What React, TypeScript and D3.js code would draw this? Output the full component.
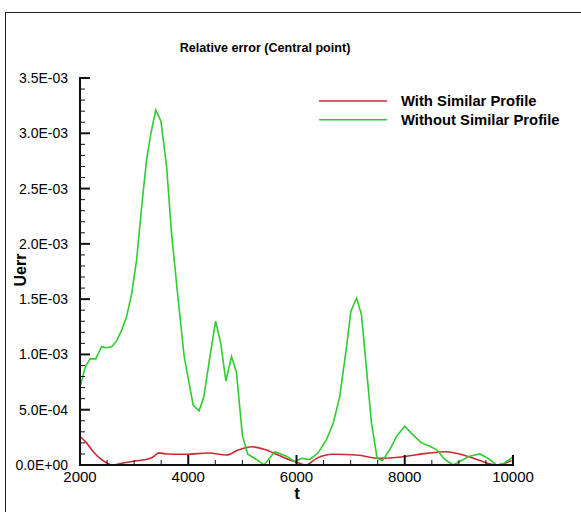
import React, { useEffect, useRef } from 'react'
import * as d3 from 'd3'

// Data (t, Uerr)
const tWith = [2000, 2120, 2245, 2370, 2490, 2600, 2770, 3015, 3260, 3355, 3460, 3600, 3970, 4370, 4710, 4925, 5170, 5415, 5660, 5905, 6030, 6175, 6370, 6680, 7110, 7540, 7970, 8400, 8770, 9080, 9390, 9695, 9975]
const uWith = [0.00026, 0.0002, 0.00012, 0.00006, 0.00002, 0.0, 0.000015, 0.000036, 0.000054, 0.000075, 0.00011, 0.0001, 0.000097, 0.000108, 0.00009, 0.000135, 0.000165, 0.00014, 0.00009, 0.00004, 0.00002, 0.0, 0.00006, 0.000097, 0.00009, 0.00006, 0.000075, 0.000105, 0.00012, 0.00009, 0.00004, 0.0, 0.00004]

const tWithout = [2000, 2092, 2185, 2290, 2400, 2490, 2585, 2675, 2770, 2860, 2955, 3045, 3140, 3230, 3310, 3400, 3495, 3600, 3690, 3815, 3925, 4092, 4200, 4290, 4400, 4505, 4600, 4695, 4800, 4890, 5000, 5095, 5260, 5400, 5600, 5815, 5970, 6095, 6250, 6400, 6555, 6680, 6800, 6925, 7005, 7110, 7200, 7295, 7385, 7490, 7590, 7725, 7850, 8000, 8155, 8310, 8465, 8585, 8740, 8895, 9050, 9200, 9387, 9540, 9695, 9815, 9990]
const uWithout = [0.0007, 0.00088, 0.00096, 0.00096, 0.00107, 0.00106, 0.00107, 0.00112, 0.00122, 0.00134, 0.00155, 0.00185, 0.00234, 0.00276, 0.003, 0.00321, 0.00311, 0.0027, 0.0021, 0.00149, 0.00098, 0.00054, 0.00049, 0.00062, 0.00098, 0.0013, 0.0011, 0.00076, 0.00098, 0.00084, 0.00027, 0.0001, 0.00005, 0.0, 0.00012, 0.00008, 0.00003, 0.00006, 0.00005, 0.00011, 0.00023, 0.00038, 0.00062, 0.00107, 0.00139, 0.00151, 0.00136, 0.00086, 0.00038, 0.00006, 0.00004, 0.00014, 0.00026, 0.00035, 0.00027, 0.0002, 0.00017, 0.00014, 0.00005, 0.0, 0.00004, 0.00008, 0.0001, 0.00006, 0.0, 0.00001, 0.00007]

const xTicks = [2000, 4000, 6000, 8000, 10000]
const yTicks = [0, 0.0005, 0.001, 0.0015, 0.002, 0.0025, 0.003, 0.0035]
const yLabels = ['0.0E+00', '5.0E-04', '1.0E-03', '1.5E-03', '2.0E-03', '2.5E-03', '3.0E-03', '3.5E-03']
const seriesNames = ['With Similar Profile', 'Without Similar Profile']
const seriesColors = ['#cc2a30', '#2ecc2e']

export default function App() {
  const ref = useRef<SVGSVGElement>(null)

  useEffect(() => {
    const svg = d3.select(ref.current)
    svg.selectAll('*').remove()

    const font = '"Liberation Sans", Arial, sans-serif'
    const x = d3.scaleLinear().domain([2000, 10000]).range([80, 513])
    const y = d3.scaleLinear().domain([0, 0.0035]).range([465, 78])

    // Frame
    svg.append('rect')
      .attr('x', 5.5).attr('y', 12.5)
      .attr('width', 700).attr('height', 700)
      .attr('fill', 'white').attr('stroke', '#222').attr('stroke-width', 1)

    // Title
    svg.append('text')
      .attr('x', 265).attr('y', 52)
      .attr('text-anchor', 'middle')
      .attr('font-family', font).attr('font-weight', 'bold').attr('font-size', 12.6)
      .text('Relative error (Central point)')

    // Series
    const line = d3.line<[number, number]>()
      .x(d => x(d[0])).y(d => y(d[1]))

    const redData = tWith.map((t, i) => [t, uWith[i]] as [number, number])
    const greenData = tWithout.map((t, i) => [t, uWithout[i]] as [number, number])

    svg.append('path')
      .attr('d', line.curve(d3.curveMonotoneX)(redData))
      .attr('fill', 'none').attr('stroke', seriesColors[0]).attr('stroke-width', 1.6)
    svg.append('path')
      .attr('d', line.curve(d3.curveLinear)(greenData))
      .attr('fill', 'none').attr('stroke', seriesColors[1]).attr('stroke-width', 1.6)

    // Minor ticks
    const g = svg.append('g').attr('stroke', '#111')
    d3.range(2000, 10001, 500).filter(t => t % 2000 !== 0).forEach(t => {
      g.append('line')
        .attr('x1', x(t)).attr('x2', x(t)).attr('y1', 465).attr('y2', 460)
        .attr('stroke-width', 1)
    })
    d3.range(0, 36).filter(i => i % 5 !== 0).forEach(i => {
      const v = i * 0.0001
      g.append('line')
        .attr('x1', 80).attr('x2', 85).attr('y1', y(v)).attr('y2', y(v))
        .attr('stroke-width', 1)
    })
    // Major ticks
    xTicks.forEach(t => {
      g.append('line')
        .attr('x1', x(t)).attr('x2', x(t)).attr('y1', 465).attr('y2', 455)
        .attr('stroke-width', 2)
    })
    yTicks.forEach(v => {
      g.append('line')
        .attr('x1', 80).attr('x2', 90).attr('y1', y(v)).attr('y2', y(v))
        .attr('stroke-width', 2)
    })
    // Axis lines
    g.append('line').attr('x1', 80).attr('x2', 80).attr('y1', 77).attr('y2', 466).attr('stroke-width', 2)
    g.append('line').attr('x1', 79).attr('x2', 514).attr('y1', 465).attr('y2', 465).attr('stroke-width', 2)

    // Tick labels
    xTicks.forEach(t => {
      svg.append('text')
        .attr('x', x(t)).attr('y', 482)
        .attr('text-anchor', 'middle')
        .attr('font-family', font).attr('font-size', 15)
        .text(String(t))
    })
    yTicks.forEach((v, i) => {
      svg.append('text')
        .attr('x', 68).attr('y', y(v) + 5)
        .attr('text-anchor', 'end')
        .attr('font-family', font).attr('font-size', 14)
        .text(yLabels[i])
    })

    // Axis titles
    svg.append('text')
      .attr('x', 297).attr('y', 499)
      .attr('text-anchor', 'middle')
      .attr('font-family', font).attr('font-weight', 'bold').attr('font-size', 17)
      .text('t')
    svg.append('text')
      .attr('transform', 'translate(26,270) rotate(-90)')
      .attr('text-anchor', 'middle')
      .attr('font-family', font).attr('font-weight', 'bold').attr('font-size', 16)
      .text('Uerr')

    // Legend
    seriesNames.forEach((name, i) => {
      const ly = 101 + i * 18.7
      svg.append('line')
        .attr('x1', 319).attr('x2', 387).attr('y1', ly).attr('y2', ly)
        .attr('stroke', seriesColors[i]).attr('stroke-width', 1.6)
      svg.append('text')
        .attr('x', 401).attr('y', ly + 5)
        .attr('font-family', font).attr('font-weight', 'bold').attr('font-size', 14.8)
        .text(name)
    })
  }, [])

  return (
    <svg
      ref={ref}
      width={581}
      height={512}
      style={{ position: 'absolute', left: 0, top: 0, background: 'white' }}
    />
  )
}
